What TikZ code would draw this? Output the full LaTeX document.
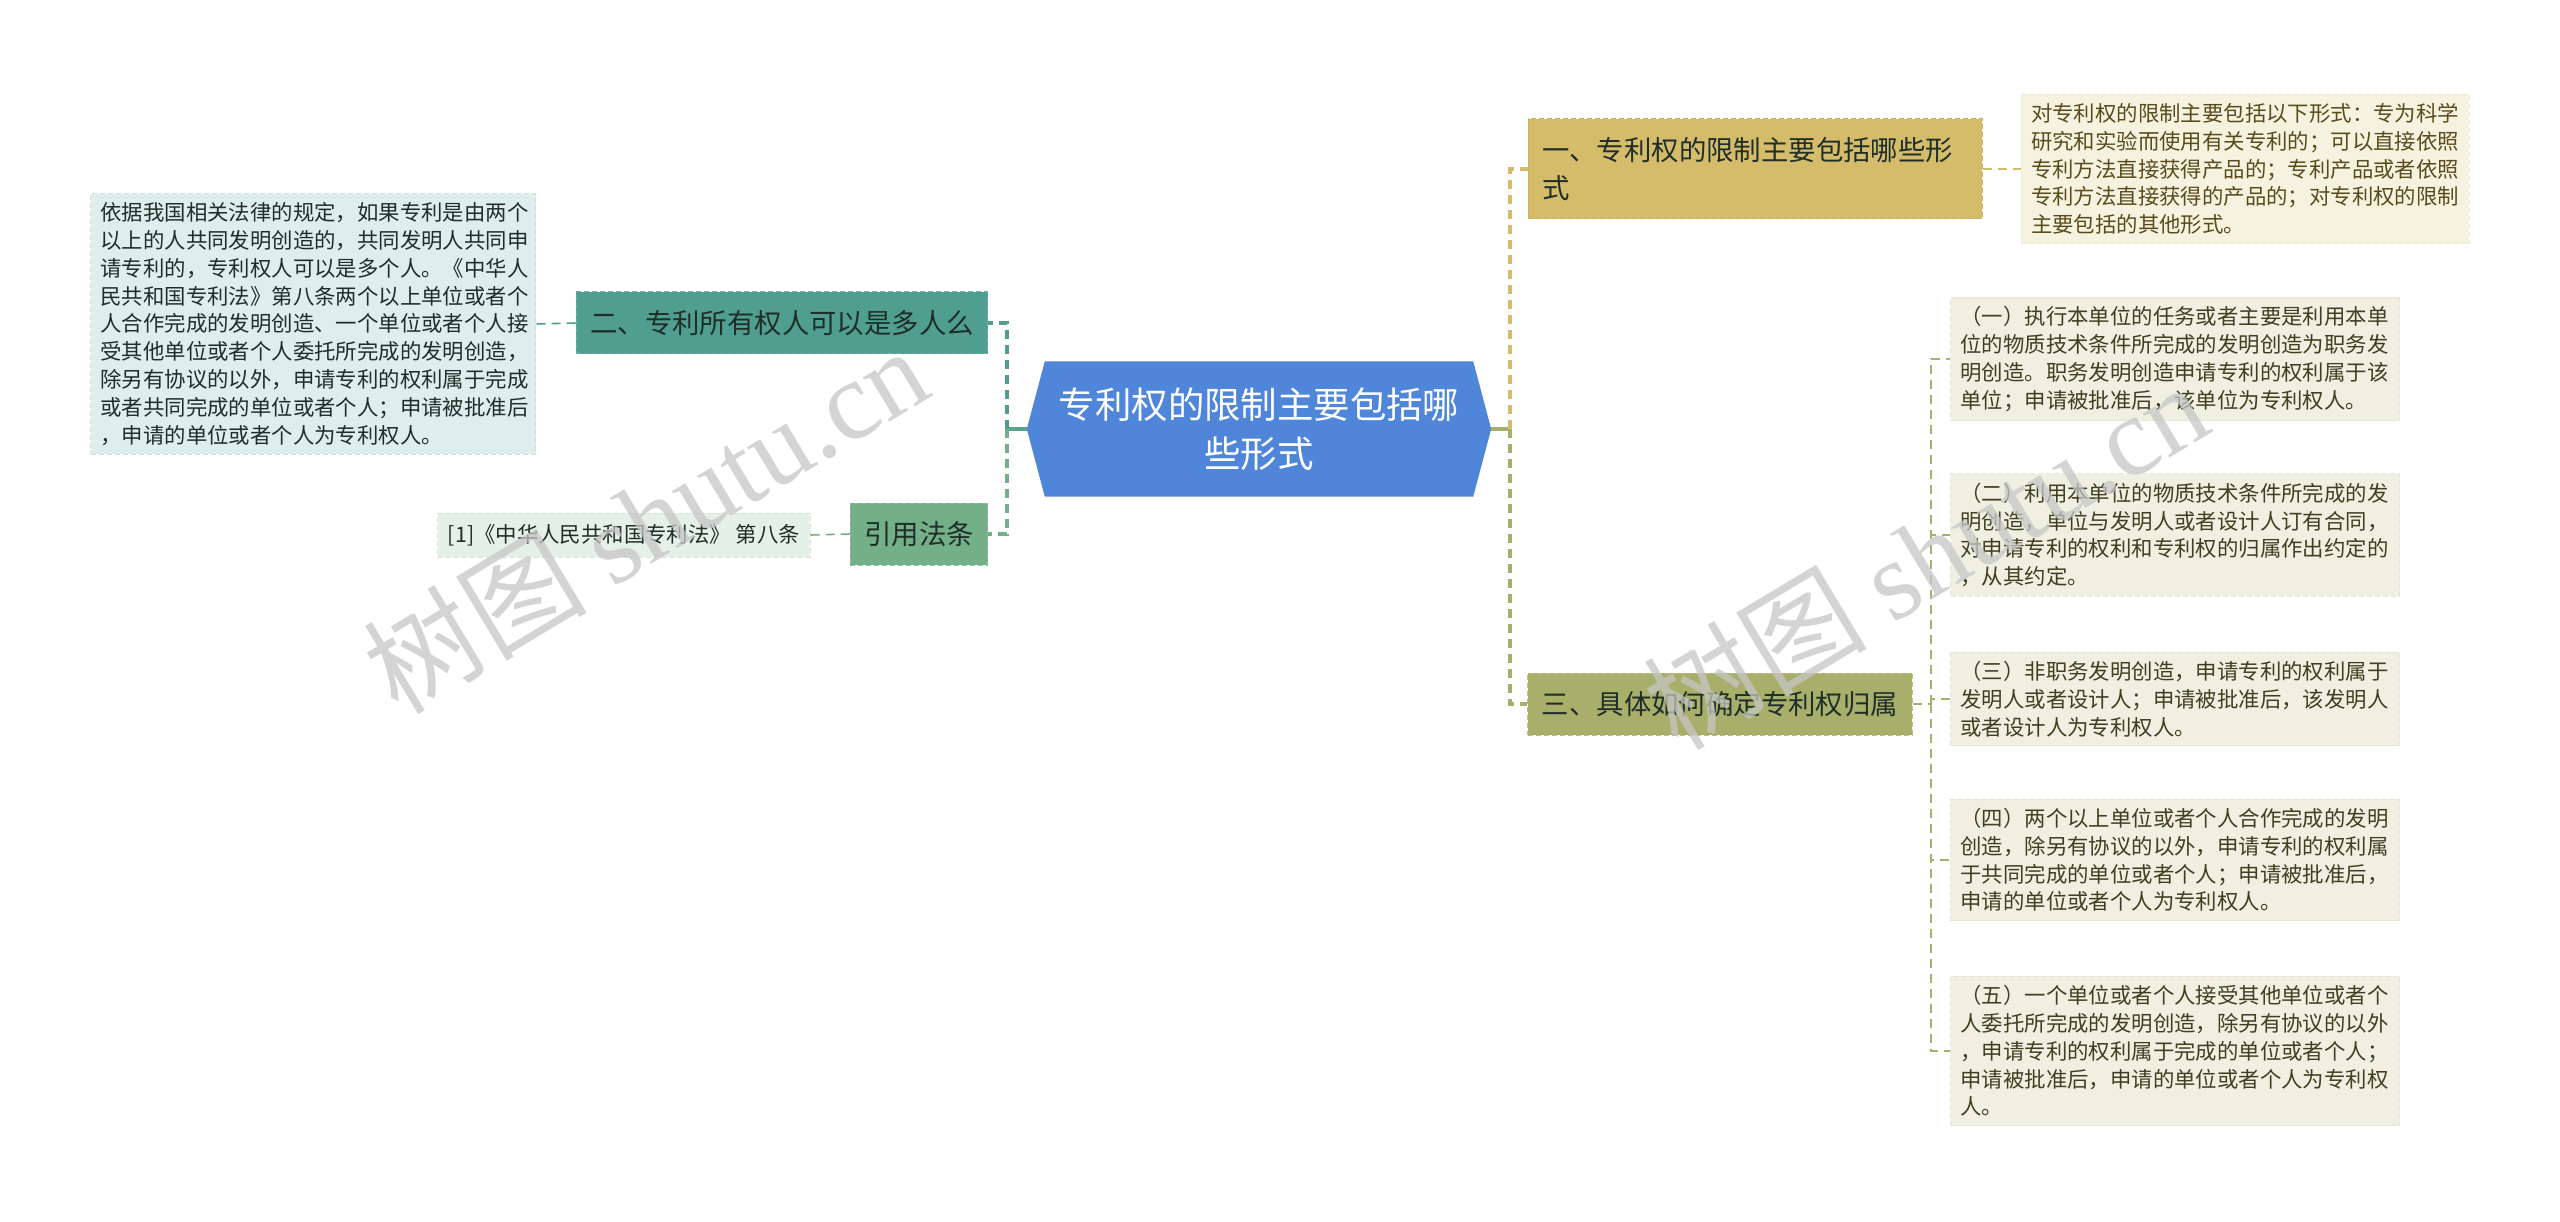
\documentclass[tikz,border=0pt]{standalone}
\usepackage{fontspec}
\setmainfont{Noto Sans CJK SC}
\newfontfamily\markfont{Liberation Serif}
\usetikzlibrary{backgrounds}
\definecolor{rootblue}{HTML}{4F86D9}
\definecolor{goldfill}{HTML}{D4BC6A}
\definecolor{goldline}{HTML}{C9B160}
\definecolor{goldleaf}{HTML}{F6F2E0}
\definecolor{goldtext}{HTML}{5A4B1C}
\definecolor{tealfill}{HTML}{4F9E8F}
\definecolor{tealleaf}{HTML}{DFEEEC}
\definecolor{greenfill}{HTML}{73AF87}
\definecolor{greenleaf}{HTML}{E4F0E8}
\definecolor{olivefill}{HTML}{A8AF6A}
\definecolor{oliveleaf}{HTML}{EFEFE2}
\definecolor{olivetext}{HTML}{3E4020}
\definecolor{darktext}{HTML}{1F2E28}
\begin{document}
\begin{tikzpicture}[x=1pt, y=-1pt,
  rootbox/.style={rectangle, inner sep=0pt, minimum width=464pt, minimum height=135pt, align=center, text=white, font=\fontsize{36.4}{49}\selectfont},
  branch/.style={draw, dash pattern=on 5pt off 3pt, line width=1pt, rectangle, inner xsep=14pt, inner ysep=0pt, minimum height=62pt, align=left, font=\fontsize{27.4}{37.5}\selectfont},
  leaf/.style={draw, dash pattern=on 5pt off 3pt, line width=1pt, rectangle, inner xsep=10pt, inner ysep=9pt, align=left, font=\fontsize{21.4}{27.8}\selectfont},
  trunk/.style={line width=3.5pt, dash pattern=on 9pt off 6pt},
  twig/.style={line width=1.6pt, dash pattern=on 9pt off 6pt},
  stem/.style={line width=4pt},
  watermark/.style={text=gray!45, opacity=0.75, font=\fontsize{112}{112}\selectfont}
]
\useasboundingbox (0,0) rectangle (2560,1222);

% centre
\node[rootbox] (root) at (1259,429) {专利权的限制主要包括哪\\些形式};
\begin{scope}[on background layer]
\fill[rootblue] ([xshift=18pt]root.north west) -- ([xshift=-18pt]root.north east) -- (root.east)
  -- ([xshift=-18pt]root.south east) -- ([xshift=18pt]root.south west) -- (root.west) -- cycle;
\end{scope}
\coordinate (rjoint) at (1510,429);
\coordinate (ljoint) at (1007,429);

% right side
\node[branch, fill=goldfill, draw=goldline, text=darktext, text width=426pt, minimum height=100pt] (limit) at (1755,169) {一、专利权的限制主要包括哪些形\\式};
\node[leaf, fill=goldleaf, draw=goldleaf!80!goldfill, text=goldtext, text width=428pt] (limitleaf) at (2245,169) {对专利权的限制主要包括以下形式：专为科学\\研究和实验而使用有关专利的；可以直接依照\\专利方法直接获得产品的；专利产品或者依照\\专利方法直接获得的产品的；对专利权的限制\\主要包括的其他形式。};
\node[branch, fill=olivefill, draw=olivefill!80!white, text=darktext] (owner) at (1720,704) {三、具体如何确定专利权归属};
\coordinate (ojoint) at (1931,704);
\node[leaf, fill=oliveleaf, draw=oliveleaf!85!olivefill, text=olivetext, text width=429pt] (item1) at (2175,359) {（一）执行本单位的任务或者主要是利用本单\\位的物质技术条件所完成的发明创造为职务发\\明创造。职务发明创造申请专利的权利属于该\\单位；申请被批准后，该单位为专利权人。};
\node[leaf, fill=oliveleaf, draw=oliveleaf!85!olivefill, text=olivetext, text width=429pt] (item2) at (2175,535) {（二）利用本单位的物质技术条件所完成的发\\明创造，单位与发明人或者设计人订有合同，\\对申请专利的权利和专利权的归属作出约定的\\，从其约定。};
\node[leaf, fill=oliveleaf, draw=oliveleaf!85!olivefill, text=olivetext, text width=429pt] (item3) at (2175,699) {（三）非职务发明创造，申请专利的权利属于\\发明人或者设计人；申请被批准后，该发明人\\或者设计人为专利权人。};
\node[leaf, fill=oliveleaf, draw=oliveleaf!85!olivefill, text=olivetext, text width=429pt] (item4) at (2175,860) {（四）两个以上单位或者个人合作完成的发明\\创造，除另有协议的以外，申请专利的权利属\\于共同完成的单位或者个人；申请被批准后，\\申请的单位或者个人为专利权人。};
\node[leaf, fill=oliveleaf, draw=oliveleaf!85!olivefill, text=olivetext, text width=429pt] (item5) at (2175,1051) {（五）一个单位或者个人接受其他单位或者个\\人委托所完成的发明创造，除另有协议的以外\\，申请专利的权利属于完成的单位或者个人；\\申请被批准后，申请的单位或者个人为专利权\\人。};

% left side
\node[branch, fill=tealfill, draw=tealfill!80!white, text=darktext] (multi) at (782,323) {二、专利所有权人可以是多人么};
\node[leaf, fill=tealleaf, draw=tealleaf!85!tealfill, text=darktext, text width=425pt] (multileaf) at (313,324) {依据我国相关法律的规定，如果专利是由两个\\以上的人共同发明创造的，共同发明人共同申\\请专利的，专利权人可以是多个人。《中华人\\民共和国专利法》第八条两个以上单位或者个\\人合作完成的发明创造、一个单位或者个人接\\受其他单位或者个人委托所完成的发明创造，\\除另有协议的以外，申请专利的权利属于完成\\或者共同完成的单位或者个人；申请被批准后\\，申请的单位或者个人为专利权人。};
\node[branch, fill=greenfill, draw=greenfill!80!white, text=darktext] (cite) at (919,534) {引用法条};
\node[leaf, fill=greenleaf, draw=greenleaf!85!greenfill, text=darktext, inner ysep=0pt, minimum height=44pt] (citeleaf) at (624,535) {[1]《中华人民共和国专利法》 第八条};

% connectors
\draw[stem, olivefill] (root.east) -- (rjoint);
\draw[trunk, goldfill] (rjoint) |- (limit.west);
\draw[trunk, olivefill] (rjoint) |- (owner.west);
\draw[twig, goldfill] (limit.east) -- (limitleaf.west);
\draw[twig, olivefill] (owner.east) -- (ojoint);
\foreach \n in {1,...,5}
  \draw[twig, olivefill] (ojoint) |- (item\n.west);
\draw[stem, tealfill!70!greenfill] (root.west) -- (ljoint);
\draw[trunk, tealfill] (ljoint) |- (multi.east);
\draw[trunk, greenfill] (ljoint) |- (cite.east);
\draw[twig, tealfill] (multi.west) -- (multileaf.east);
\draw[twig, greenfill] (cite.west) -- (citeleaf.east);

% watermark
\node[watermark, rotate=31] (mark1) at (645,519) {树图 {\markfont shutu.cn}};
\node[watermark, rotate=31] (mark2) at (1925,555) {树图 {\markfont shutu.cn}};
\end{tikzpicture}
\end{document}
